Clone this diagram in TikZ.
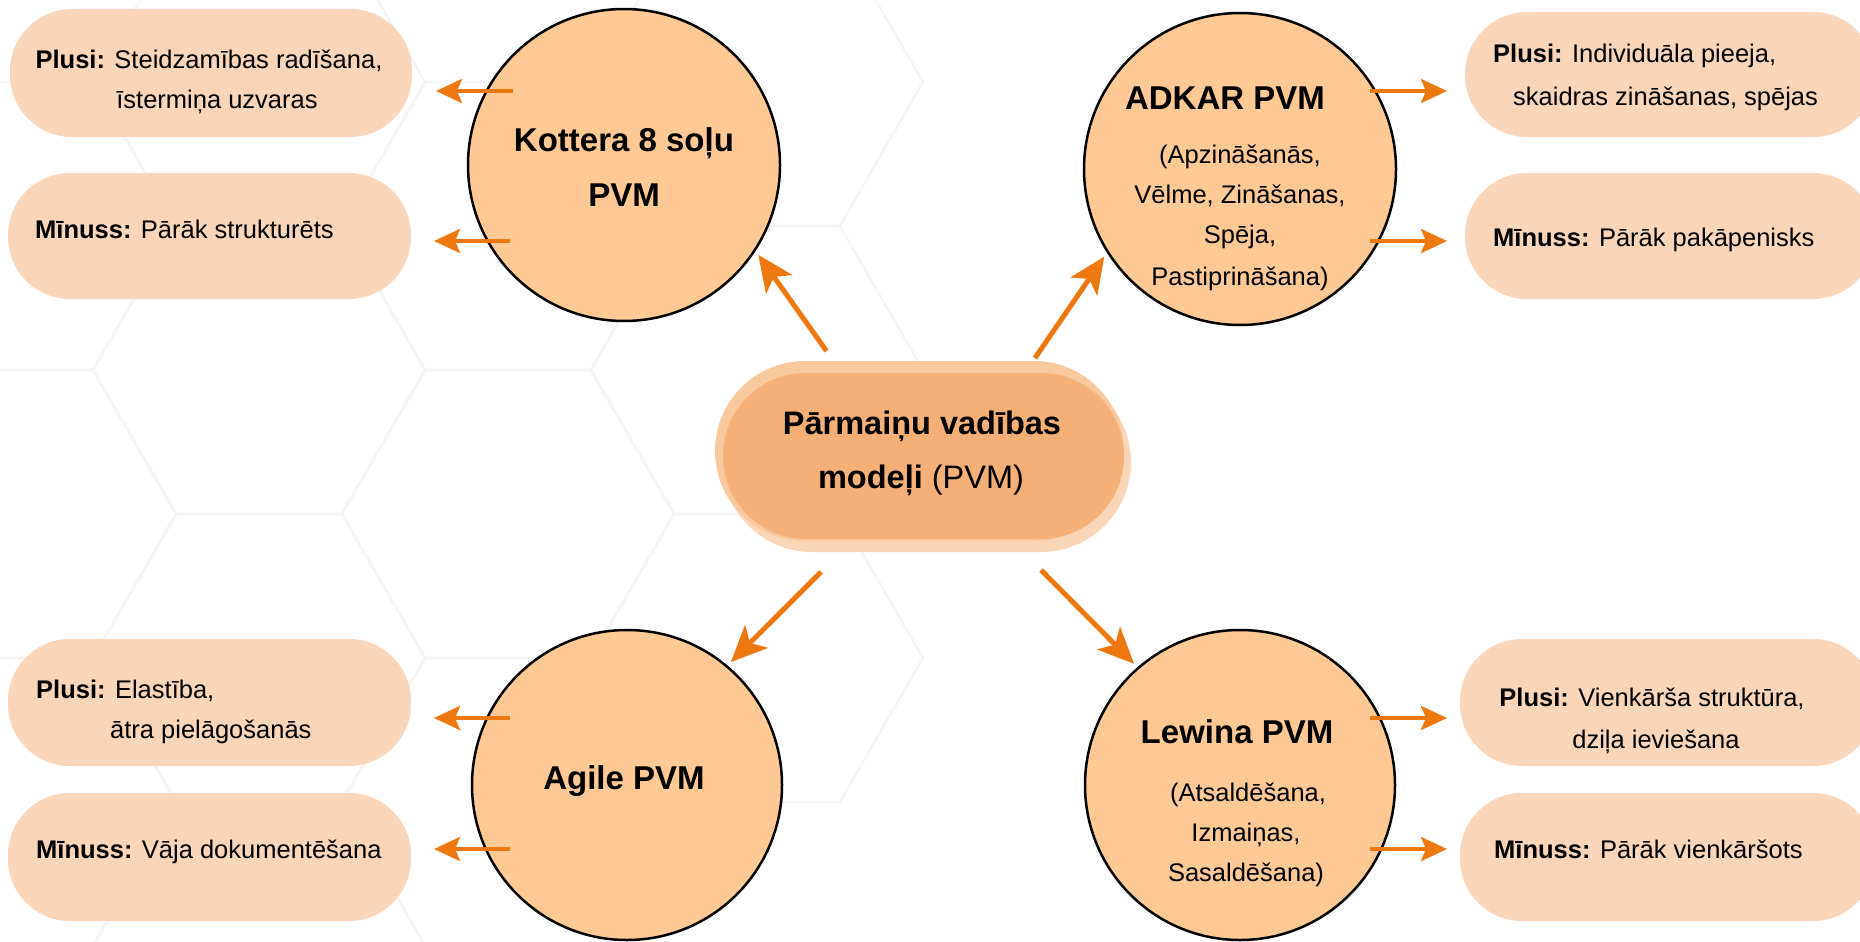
\documentclass[tikz,border=0pt]{standalone}
\usepackage{fontspec}
\setmainfont{Liberation Sans}
\usetikzlibrary{arrows.meta,calc}
\definecolor{arrowor}{HTML}{EE7810}
\definecolor{circfill}{HTML}{FEC995}
\definecolor{boxfill}{HTML}{F9D6BA}
\definecolor{cenfill}{HTML}{F4B076}
\definecolor{cenlight}{HTML}{F8C99C}
\definecolor{cenlighter}{HTML}{FAD6B8}
\definecolor{hexline}{HTML}{F5F5F5}
\begin{document}
\begin{tikzpicture}[x=1pt,y=-1pt,
  circ/.style={circle, draw=black, line width=2.5pt, fill=circfill, minimum size=#1, inner sep=0pt, outer sep=0pt},
  pill/.style={rectangle, rounded corners=62pt, fill=boxfill, inner sep=0pt, outer sep=0pt},
  cenlayer/.style={rectangle, inner sep=0pt, outer sep=0pt},
  body/.style={font=\fontsize{25.5}{40}\selectfont, inner sep=0pt},
  title/.style={font=\fontsize{33}{55}\selectfont\bfseries, inner sep=0pt},
  centxt/.style={font=\fontsize{32.5}{54}\selectfont, inner sep=0pt},
  bigarrow/.style={draw=arrowor, line width=5pt, shorten >=6pt, -{Stealth[length=36pt,width=32pt,inset=9pt]}},
  smallarrow/.style={draw=arrowor, line width=4pt, -{Stealth[length=26pt,width=24pt,inset=5pt]}},
  hexstyle/.style={draw=hexline, line width=2.5pt}
]
\useasboundingbox (0,0) rectangle (1860,942);
\fill[white] (0,0) rectangle (1860,942);
\begin{scope}
\clip (0,0) rectangle (1860,942);
\foreach \cx/\cy in {10/226,10/514,10/802,259/82,259/370,259/658,259/946,508/226,508/514,508/802,757/82,757/370,757/658}
  \draw[hexstyle] (\cx,\cy) ++(0:166pt) -- ++(120:166pt) -- ++(180:166pt) -- ++(240:166pt) -- ++(300:166pt) -- ++(0:166pt) -- cycle;
\end{scope}

% side boxes
\node[pill, minimum width=402pt, minimum height=128pt] (b1) at (211,73) {};
\node[pill, minimum width=403pt, minimum height=126pt] (b2) at (209.5,236) {};
\node[pill, minimum width=403pt, minimum height=127pt] (b5) at (209.5,702.5) {};
\node[pill, minimum width=403pt, minimum height=128pt] (b6) at (209.5,857) {};
\node[pill, minimum width=410pt, minimum height=125pt] (b3) at (1670,74.5) {};
\node[pill, minimum width=410pt, minimum height=126pt] (b4) at (1670,236) {};
\node[pill, minimum width=415pt, minimum height=127pt] (b7) at (1667.5,702.5) {};
\node[pill, minimum width=415pt, minimum height=128pt] (b8) at (1667.5,857) {};

% box texts
\node[body, anchor=base] (t1a) at (209,68) {\textbf{Plusi:} Steidzamības radīšana,};
\node[body, anchor=base] (t1b) at (217,108) {īstermiņa uzvaras};
\node[body, anchor=base west] (t2) at (35,238) {\textbf{Mīnuss:} Pārāk strukturēts};
\node[body, anchor=base west] (t3a) at (1493,63) {\textbf{Plusi:} Individuāla pieeja,};
\node[body, anchor=base west] (t3b) at (1513,105) {skaidras zināšanas, spējas};
\node[body, anchor=base west] (t4) at (1493,246) {\textbf{Mīnuss:} Pārāk pakāpenisks};
\node[body, anchor=base west] (t5a) at (36,698) {\textbf{Plusi:} Elastība,};
\node[body, anchor=base west] (t5b) at (110,738) {ātra pielāgošanās};
\node[body, anchor=base west] (t6) at (36,858) {\textbf{Mīnuss:} Vāja dokumentēšana};
\node[body, anchor=base] (t7a) at (1652,706) {\textbf{Plusi:} Vienkārša struktūra,};
\node[body, anchor=base] (t7b) at (1656,748) {dziļa ieviešana};
\node[body, anchor=base west] (t8) at (1494,858) {\textbf{Mīnuss:} Pārāk vienkāršots};

% central pill
\node[cenlayer, fill=cenlighter, rounded corners=90pt, minimum width=409pt, minimum height=180pt] (cenlow) at (926.5,462) {};
\node[cenlayer, fill=cenlight, rounded corners=90pt, minimum width=409pt, minimum height=180pt] (cenup) at (919.5,451) {};
\node[cenlayer, fill=cenfill, rounded corners=83pt, minimum width=401pt, minimum height=166pt] (cen) at (923.5,456) {};
\node[centxt, anchor=base] (c1) at (922,434) {\bfseries Pārmaiņu vadības};
\node[centxt, anchor=base] (c2) at (921,488) {\textbf{modeļi} (PVM)};

% circles
\node[circ=312pt] (K) at (624,165) {};
\node[circ=312pt] (A) at (1240,169) {};
\node[circ=310pt] (G) at (627,785) {};
\node[circ=310pt] (L) at (1240,785) {};

\node[title, anchor=base] (k1t) at (624,151) {Kottera 8 soļu};
\node[title, anchor=base] (k2t) at (624,206) {PVM};
\node[title, anchor=base] (a1t) at (1225,109) {ADKAR PVM};
\node[body, anchor=base] (a2t) at (1240,163) {(Apzināšanās,};
\node[body, anchor=base] (a3t) at (1240,203) {Vēlme, Zināšanas,};
\node[body, anchor=base] (a4t) at (1240,243) {Spēja,};
\node[body, anchor=base] (a5t) at (1240,285) {Pastiprināšana)};
\node[title, anchor=base] (g1t) at (624,789) {Agile PVM};
\node[title, anchor=base] (l1t) at (1237,743) {Lewina PVM};
\node[body, anchor=base] (l2t) at (1248,801) {(Atsaldēšana,};
\node[body, anchor=base] (l3t) at (1246,841) {Izmaiņas,};
\node[body, anchor=base] (l4t) at (1246,881) {Sasaldēšana)};

% arrows from centre
\coordinate (s1) at ($(cen.north)+(-97,-22)$);
\coordinate (s2) at ($(cen.north)+(111.5,-15)$);
\coordinate (s3) at ($(cen.south)+(-102.5,33)$);
\coordinate (s4) at ($(cen.south)+(117.5,31)$);
\draw[bigarrow] (s1) -- (K.-33);
\draw[bigarrow] (s2) -- (A.-148);
\draw[bigarrow] (s3) -- (G.50);
\draw[bigarrow] (s4) -- (L.131);

% short arrows
\coordinate (k1) at (513,91);
\coordinate (k2) at (510,241);
\coordinate (g1) at (510,718);
\coordinate (g2) at (510,849);
\coordinate (a1) at (1370,91);
\coordinate (a2) at (1370,241);
\coordinate (l1) at (1370,718);
\coordinate (l2) at (1370,849);
\draw[smallarrow, shorten >=24pt] (k1) -- (k1 -| b1.east);
\draw[smallarrow, shorten >=23pt] (k2) -- (k2 -| b2.east);
\draw[smallarrow, shorten >=23pt] (g1) -- (g1 -| b5.east);
\draw[smallarrow, shorten >=23pt] (g2) -- (g2 -| b6.east);
\draw[smallarrow, shorten >=18pt] (a1) -- (a1 -| b3.west);
\draw[smallarrow, shorten >=18pt] (a2) -- (a2 -| b4.west);
\draw[smallarrow, shorten >=13pt] (l1) -- (l1 -| b7.west);
\draw[smallarrow, shorten >=13pt] (l2) -- (l2 -| b8.west);
\end{tikzpicture}
\end{document}
